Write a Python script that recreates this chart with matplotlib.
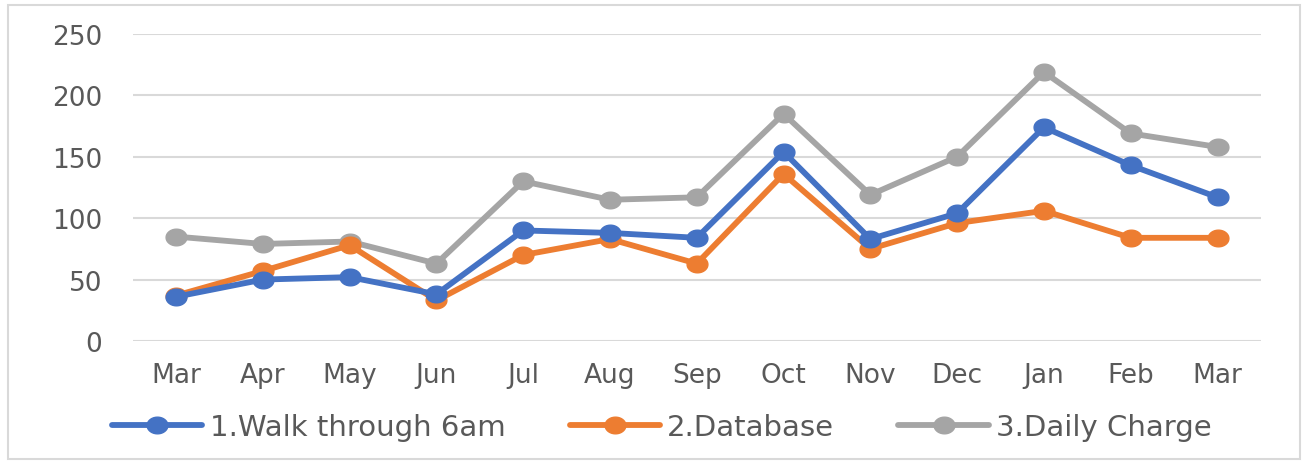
import matplotlib.pyplot as plt
from matplotlib.patches import Rectangle
from matplotlib.path import Path
import numpy as np

months = ["Mar", "Apr", "May", "Jun", "Jul", "Aug", "Sep", "Oct", "Nov", "Dec", "Jan", "Feb", "Mar"]
walk_through = [36, 50, 52, 38, 90, 88, 84, 154, 83, 104, 174, 143, 117]
database = [37, 57, 78, 33, 70, 83, 63, 136, 75, 96, 106, 84, 84]
daily_charge = [85, 79, 81, 63, 130, 115, 117, 185, 119, 150, 219, 169, 158]

series = [
    ("1.Walk through 6am", walk_through, "#4472C4"),
    ("2.Database", database, "#ED7D31"),
    ("3.Daily Charge", daily_charge, "#A5A5A5"),
]

# slightly wide dot, the original screenshot is stretched sideways
t = np.linspace(0, 2 * np.pi, 40)
oval = Path(np.column_stack([np.cos(t), 0.8 * np.sin(t)]), closed=True)

fig = plt.figure(figsize=(13.08, 4.64), dpi=100)
ax = fig.add_axes([0.1014, 0.263, 0.8626, 0.6616])

x = range(len(months))
for label, vals, color in reversed(series):
    ax.plot(x, vals, color=color, linewidth=4.2, marker=oval, markersize=15,
            label=label, solid_capstyle="round")

ax.set_ylim(0, 250)
ax.set_xlim(-0.5, len(months) - 0.5)
ax.set_yticks(range(0, 251, 50))
ax.set_xticks(list(x))
ax.set_xticklabels(months)
ax.grid(True, axis="y", color="#D9D9D9", linewidth=1.5)
ax.set_axisbelow(True)
for s in ax.spines.values():
    s.set_visible(False)
ax.tick_params(axis="both", length=0, labelsize=19, labelcolor="#595959")
ax.tick_params(axis="y", pad=22)
ax.tick_params(axis="x", pad=15)

handles, labels = ax.get_legend_handles_labels()
fig.legend(handles[::-1], labels[::-1], loc="center", bbox_to_anchor=(0.506, 0.078),
           ncol=3, frameon=False, fontsize=21, labelcolor="#595959",
           handlelength=3.1, handletextpad=0.25, columnspacing=2.2)

fig.patches.append(Rectangle((0.006, 0.008), 0.988, 0.98, transform=fig.transFigure,
                             fill=False, edgecolor="#D9D9D9", linewidth=1.5))

fig.savefig("out.png", dpi=100)
